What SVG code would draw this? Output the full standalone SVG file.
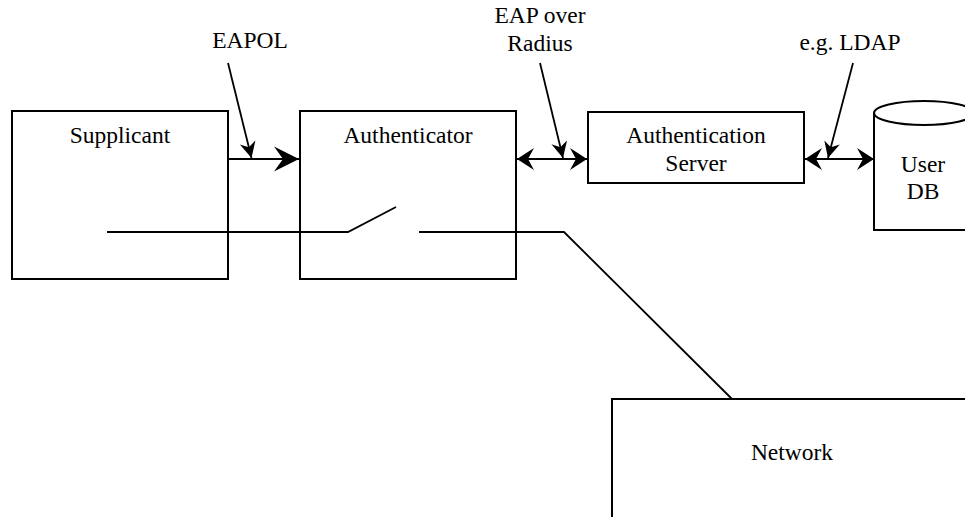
<svg xmlns="http://www.w3.org/2000/svg" width="965" height="517" viewBox="0 0 965 517">
  <style>
    .box { fill: #ffffff; stroke: #000000; stroke-width: 2; }
    .wire { fill: none; stroke: #000000; stroke-width: 1.8; }
    text { font-family: 'Liberation Serif', 'Times New Roman', Times, 'DejaVu Serif', serif; font-size: 23.5px; fill: #000000; text-anchor: middle; }
  </style>
  <defs>
    <!-- stealth-style heads for the link arrows -->
    <marker id="headLarge" markerUnits="userSpaceOnUse" viewBox="-26 -13 27 26" refX="0" refY="0" markerWidth="27" markerHeight="26" orient="auto-start-reverse">
      <path d="M0,0 L-25,-12.5 L-16,0 L-25,12.5 Z" fill="#000000"/>
    </marker>
    <marker id="head" markerUnits="userSpaceOnUse" viewBox="-18 -12 19 24" refX="0" refY="0" markerWidth="19" markerHeight="24" orient="auto-start-reverse">
      <path d="M0,0 L-17,-11 L-11,0 L-17,11 Z" fill="#000000"/>
    </marker>
    <marker id="headSmall" markerUnits="userSpaceOnUse" viewBox="-17 -9 18 18" refX="0" refY="0" markerWidth="18" markerHeight="18" orient="auto">
      <path d="M0,0 L-16,-8 L-11,0 L-16,8 Z" fill="#000000"/>
    </marker>
  </defs>

  <g id="supplicant">
    <rect class="box" x="12" y="111" width="216" height="168"/>
    <text x="120" y="143" style="font-family: 'Liberation Serif', serif">Supplicant</text>
  </g>

  <g id="authenticator">
    <rect class="box" x="300" y="111" width="216" height="168"/>
    <text x="408" y="143">Authenticator</text>
  </g>

  <g id="authentication-server">
    <rect class="box" x="588" y="112" width="216" height="71"/>
    <text x="696" y="143">Authentication</text>
    <text x="696" y="171">Server</text>
  </g>

  <g id="user-db">
    <path class="box" d="M874,113 L874,230 L974,230 L974,113"/>
    <ellipse class="box" cx="924" cy="113" rx="50" ry="12"/>
    <text x="923" y="172">User</text>
    <text x="923" y="199">DB</text>
  </g>

  <g id="network">
    <rect class="box" x="612" y="399" width="370" height="140"/>
    <text x="792" y="460">Network</text>
  </g>

  <g id="labels">
    <text x="250" y="48">EAPOL</text>
    <text x="540" y="23">EAP over</text>
    <text x="540" y="51">Radius</text>
    <text x="850" y="50">e.g. LDAP</text>
  </g>

  <g id="connectors">
    <!-- protocol links -->
    <line class="wire" x1="228" y1="159" x2="299" y2="159" marker-end="url(#headLarge)"/>
    <line class="wire" x1="517" y1="159" x2="587" y2="159" marker-start="url(#head)" marker-end="url(#head)"/>
    <line class="wire" x1="805" y1="159" x2="874" y2="159" marker-start="url(#head)" marker-end="url(#head)"/>
    <!-- label pointers -->
    <line class="wire" x1="228" y1="63" x2="251.5" y2="158" marker-end="url(#headSmall)"/>
    <line class="wire" x1="540" y1="63" x2="563" y2="158" marker-end="url(#headSmall)"/>
    <line class="wire" x1="853" y1="63" x2="828" y2="158" marker-end="url(#headSmall)"/>
    <!-- port wiring with the open switch -->
    <polyline class="wire" points="107,232 348,232 396,207"/>
    <polyline class="wire" points="419,232 564,232 732,399"/>
  </g>
</svg>
